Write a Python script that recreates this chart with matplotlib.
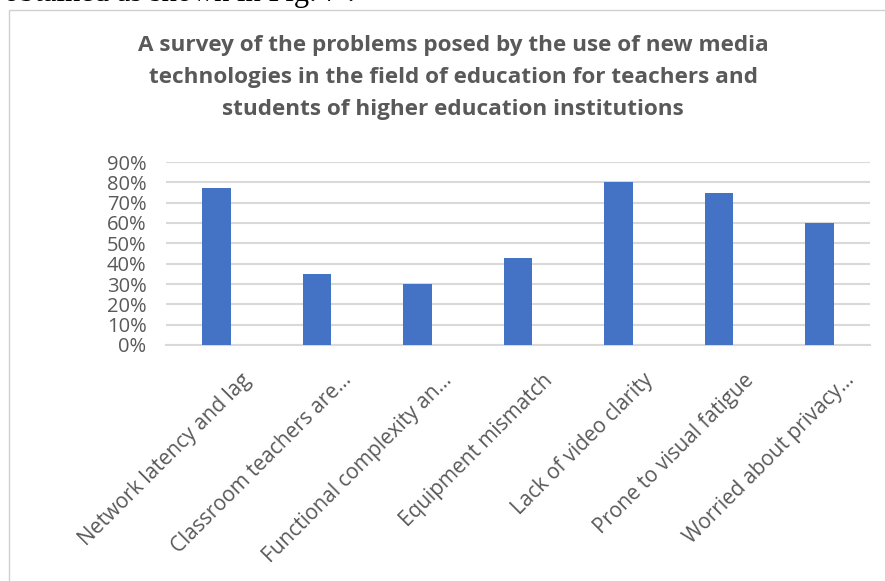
import matplotlib
matplotlib.use("Agg")
import matplotlib.pyplot as plt
from matplotlib.ticker import FuncFormatter
from matplotlib.patches import Rectangle
from matplotlib.transforms import ScaledTranslation

categories = [
    "Network latency and lag",
    "Classroom teachers are...",
    "Functional complexity an...",
    "Equipment mismatch",
    "Lack of video clarity",
    "Prone to visual fatigue",
    "Worried about privacy...",
]
values = [0.77, 0.35, 0.30, 0.43, 0.80, 0.75, 0.60]
yticks = [0, 0.1, 0.2, 0.3, 0.4, 0.5, 0.6, 0.7, 0.8, 0.9]
title = ("A survey of the problems posed by the use of new media\n"
         "technologies in the field of education for teachers and\n"
         "students of higher education institutions")

FONT = ["Open Sans", "DejaVu Sans"]
GREY = "#595959"

fig = plt.figure(figsize=(8.85, 5.81), dpi=100)
fig.patch.set_facecolor("white")

# chart frame
fig.add_artist(Rectangle((9 / 885, -0.05), 1.0, 1 - 10 / 581 + 0.05,
                         transform=fig.transFigure, fill=False,
                         edgecolor="#d0d0d0", linewidth=1.0))
# clipped caption from surrounding document
fig.text(355 / 885, 1.0 - 0.5 / 581, "obtained as shown in Fig. 7 .", fontsize=22,
         family=["Liberation Serif"], va="baseline", ha="right", color="black")

ax = fig.add_axes([166 / 885, 1 - 345 / 581, (870 - 166) / 885, (345 - 162) / 581])
x = range(len(categories))
ax.bar(x, values, width=0.285, color="#4472C4", zorder=3)
ax.set_xlim(-0.5, len(categories) - 0.5)
ax.set_ylim(0, 0.9)
ax.set_yticks(yticks)
ax.yaxis.set_major_formatter(FuncFormatter(lambda v, p: f"{v * 100:.0f}%"))
ax.grid(axis="y", color="#d9d9d9", linewidth=1.5, zorder=0)
for s in ["top", "right", "left"]:
    ax.spines[s].set_visible(False)
ax.spines["bottom"].set_color("#d9d9d9")
ax.spines["bottom"].set_linewidth(1.5)
ax.tick_params(axis="both", length=0, colors=GREY)
ax.tick_params(axis="y", pad=14)
for lab in ax.get_yticklabels():
    lab.set_fontsize(14.5)
    lab.set_family(FONT)
ax.set_xticks(list(x))
ax.set_xticklabels(categories, rotation=45, ha="right", rotation_mode="anchor",
                   fontsize=15, family=FONT, color=GREY)
ax.tick_params(axis="x", pad=12)
off = ScaledTranslation(24 / 100, -8 / 100, fig.dpi_scale_trans)
for lab in ax.get_xticklabels():
    lab.set_transform(lab.get_transform() + off)

fig.text(453 / 885, 1 - 35 / 581, title, ha="center", va="top", fontsize=16.2,
         fontweight="bold", family=FONT, color=GREY, linespacing=1.7)

fig.savefig("out.png", dpi=100)
